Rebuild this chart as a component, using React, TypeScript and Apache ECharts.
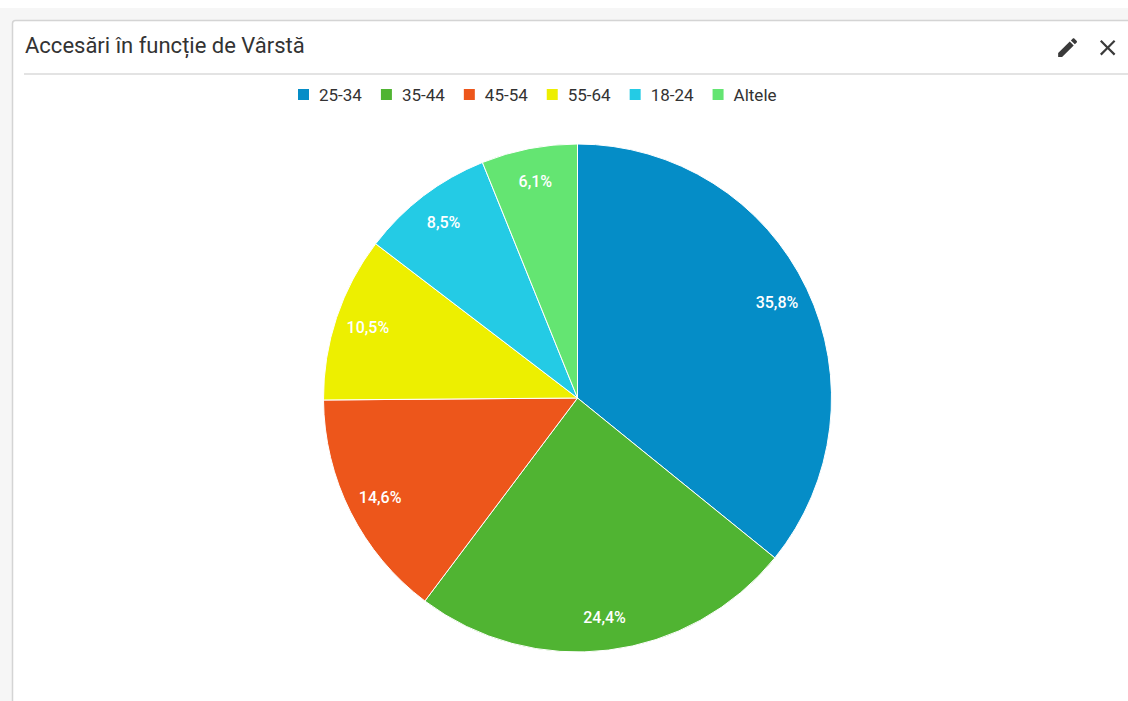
import React, { useEffect, useRef } from "react";
import * as echarts from "echarts";

const chartTitle = "Accesări în funcție de Vârstă";
const categories = ["25-34", "35-44", "45-54", "55-64", "18-24", "Altele"];
const shares = [35.8, 24.4, 14.6, 10.5, 8.5, 6.1];
const sliceColors = ["#058DC7", "#50B432", "#ED561B", "#EDEF00", "#24CBE5", "#64E572"];

const PENCIL_D =
  "M3 17.25V21h3.75L17.81 9.94l-3.75-3.75L3 17.25zM20.71 7.04c.39-.39.39-1.02 0-1.41l-2.34-2.34c-.39-.39-1.02-.39-1.41 0l-1.83 1.83 3.75 3.75 1.83-1.83z";
const CLOSE_D =
  "M19 6.41L17.59 5 12 10.59 6.41 5 5 6.41 10.59 12 5 17.59 6.41 19 12 13.41 17.59 19 19 17.59 13.41 12z";

let registered = false;
function registerIcons() {
  if (registered) return;
  echarts.graphic.registerShape("pencilIcon", echarts.graphic.extendPath(PENCIL_D, {}) as any);
  echarts.graphic.registerShape("closeIcon", echarts.graphic.extendPath(CLOSE_D, {}) as any);
  registered = true;
}

export default function App() {
  const ref = useRef<HTMLDivElement>(null);

  useEffect(() => {
    if (!ref.current) return;
    registerIcons();
    const chart = echarts.init(ref.current, undefined, { renderer: "svg" });
    const data = categories.map((name, i) => ({
      name,
      value: shares[i],
      itemStyle: { color: sliceColors[i] },
    }));
    const fmt = (p: any) => p.value.toFixed(1).replace(".", ",") + "%";

    chart.setOption({
      animation: false,
      backgroundColor: "#ffffff",
      textStyle: { fontFamily: "Roboto" },
      title: {
        text: chartTitle,
        left: 25,
        top: 34,
        padding: 0,
        textStyle: { fontSize: 22, fontWeight: "normal", color: "#333333", fontFamily: "Roboto" },
      },
      legend: {
        data: categories,
        left: 296,
        top: 86,
        padding: 0,
        itemWidth: 13,
        itemHeight: 13,
        itemGap: 17,
        icon: "rect",
        textStyle: { fontSize: 17, color: "#333333", fontFamily: "Roboto", padding: [0, 0, 0, 4] },
        selectedMode: false,
      },
      graphic: [
        { type: "rect", z: -10, shape: { x: 0, y: 8, width: 1128, height: 693 }, style: { fill: "#f6f6f6" }, silent: true },
        {
          type: "rect",
          z: -9,
          shape: { x: 12.5, y: 20.5, width: 1140, height: 700, r: 3 },
          style: { fill: "#ffffff", stroke: "#d4d4d4", lineWidth: 1.5 },
          silent: true,
        },
        { type: "line", z: -8, shape: { x1: 24, y1: 74, x2: 1128, y2: 74 }, style: { stroke: "#e3e3e3", lineWidth: 2 }, silent: true },
        { type: "pencilIcon", x: 1055, y: 35, scaleX: 1.05, scaleY: 1.05, style: { fill: "#3a3a3a" }, silent: true },
        { type: "closeIcon", x: 1094.5, y: 34.5, scaleX: 1.1, scaleY: 1.1, style: { fill: "#3a3a3a" }, silent: true },
      ],
      series: [
        {
          type: "pie",
          name: "age",
          center: [577.5, 398],
          radius: 254,
          startAngle: 90,
          clockwise: true,
          label: { show: false },
          labelLine: { show: false },
          itemStyle: { borderColor: "#ffffff", borderWidth: 1 },
          emphasis: { disabled: true },
          data,
        },
        {
          type: "pie",
          name: "labels",
          center: [577.5, 398],
          radius: [182, 254],
          startAngle: 90,
          clockwise: true,
          silent: true,
          itemStyle: { color: "rgba(0,0,0,0)" },
          label: {
            show: true,
            position: "inside",
            formatter: fmt,
            color: "#ffffff",
            fontSize: 16,
            fontWeight: 500,
            fontFamily: "Roboto",
          },
          labelLine: { show: false },
          emphasis: { disabled: true },
          data: categories.map((name, i) => ({ name, value: shares[i] })),
        },
      ],
    });
    return () => chart.dispose();
  }, []);

  return (
    <div
      ref={ref}
      style={{ position: "fixed", left: 0, top: 0, width: 1128, height: 701 }}
    />
  );
}
